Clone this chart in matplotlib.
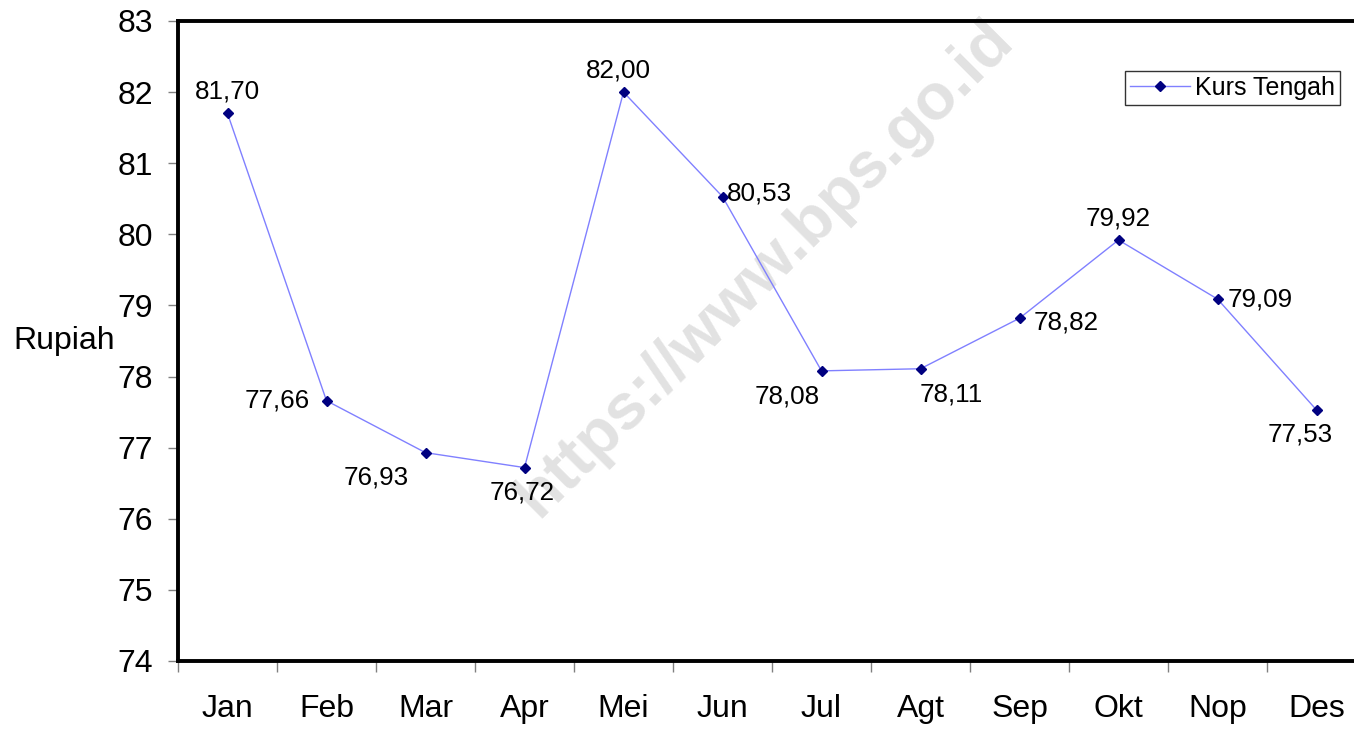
import matplotlib.pyplot as plt
from matplotlib.ticker import FixedLocator

plt.rcParams["font.family"] = ["Liberation Sans", "DejaVu Sans"]

months = ["Jan", "Feb", "Mar", "Apr", "Mei", "Jun", "Jul", "Agt", "Sep", "Okt", "Nop", "Des"]
kurs_tengah = [81.70, 77.66, 76.93, 76.72, 82.00, 80.53, 78.08, 78.11, 78.82, 79.92, 79.09, 77.53]
y_ticks = [74, 75, 76, 77, 78, 79, 80, 81, 82, 83]

# label placement per point: (dx, dy) in points, ha, va
label_pos = [
    (0, 7, "center", "bottom"),
    (-12, 0, "right", "center"),
    (-12, -9, "right", "top"),
    (-2, -9, "center", "top"),
    (-4, 7, "center", "bottom"),
    (3, 2, "left", "center"),
    (-25, -10, "center", "top"),
    (22, -10, "center", "top"),
    (10, -3, "left", "center"),
    (0, 7, "center", "bottom"),
    (7, 0, "left", "center"),
    (-12, -9, "center", "top"),
]

fig = plt.figure(figsize=(13.54, 7.29), dpi=100)
ax = fig.add_axes([178 / 1354, 68 / 729, 1188 / 1354, 640 / 729])

x = list(range(len(months)))
ax.plot(x, kurs_tengah, color="#8080ff", lw=1, marker="D", markersize=5.5,
        markerfacecolor="#000080", markeredgecolor="#000080", label="Kurs Tengah", zorder=3)

for xi, v, (dx, dy, ha, va) in zip(x, kurs_tengah, label_pos):
    ax.annotate(f"{v:.2f}".replace(".", ","), (xi, v), xytext=(dx, dy),
                textcoords="offset points", ha=ha, va=va, fontsize=18.7, zorder=4)

ax.set_xlim(-0.5, len(months) - 0.5)
ax.set_ylim(74, 83)
ax.set_yticks(y_ticks)
ax.set_xticks(x)
ax.set_xticklabels(months)
ax.xaxis.set_minor_locator(FixedLocator([i - 0.5 for i in range(len(months) + 1)]))
ax.tick_params(axis="x", which="major", length=0, pad=24, labelsize=23)
ax.tick_params(axis="x", which="minor", length=8, width=1, color="#808080")
ax.tick_params(axis="y", length=7, width=1, color="#808080", pad=11, labelsize=23)

for side in ["left", "bottom", "top"]:
    ax.spines[side].set_linewidth(2.8)
ax.spines["right"].set_visible(False)

fig.text(64 / 1354, 1 - 341 / 729, "Rupiah", fontsize=23, ha="center", va="center")

# watermark, behind the axes
fig.text(765 / 1354, 1 - 268 / 729, "https://www.bps.go.id", fontsize=47, fontweight="bold",
         color="#e2e2e2", rotation=45, ha="center", va="center", zorder=-1)
ax.set_facecolor("none")

leg = ax.legend(loc="upper right", bbox_to_anchor=(1340 / 1354, 1 - 71 / 729),
                bbox_transform=fig.transFigure, fontsize=18, frameon=True, fancybox=False,
                handlelength=2.4, borderpad=0.2, handletextpad=0.2, borderaxespad=0)
leg.get_frame().set_edgecolor("black")
leg.get_frame().set_linewidth(1)

fig.savefig("out.png", dpi=100)
